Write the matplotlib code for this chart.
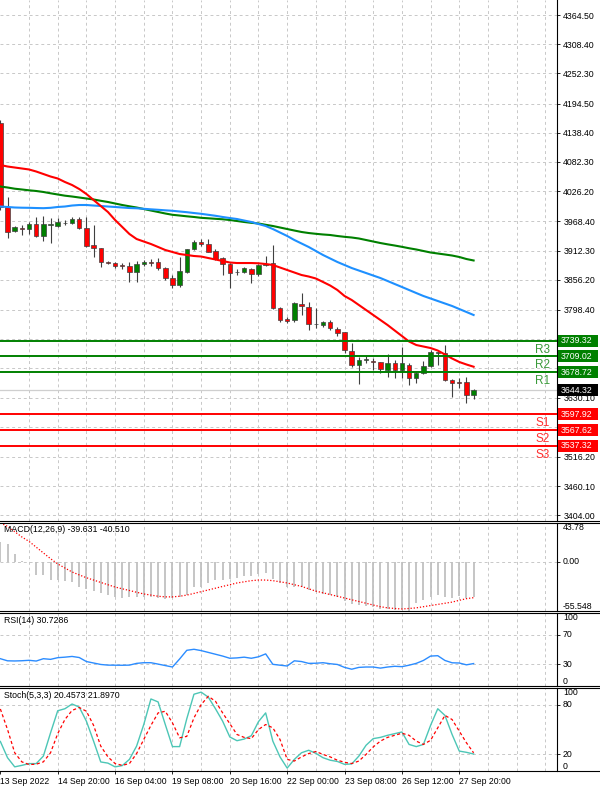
import matplotlib
matplotlib.use("Agg")
import matplotlib.pyplot as plt
import matplotlib.transforms as mtransforms
from matplotlib.patches import Rectangle
from matplotlib.lines import Line2D
import numpy as np

plt.rcParams['font.family'] = ['Liberation Sans', 'DejaVu Sans']

# ---------------- data (H4 candles) ----------------
opens = [4157, 3996, 3950, 3955, 3953, 3963, 3940, 3962, 3960, 3966,
         3966, 3972, 3956, 3923, 3917, 3890, 3889, 3884, 3883, 3872,
         3886, 3891, 3891, 3878, 3859, 3846, 3872, 3915, 3929, 3924,
         3911, 3897, 3886, 3871, 3872, 3877, 3867, 3884, 3889, 3801,
         3780, 3779, 3809, 3804, 3771, 3769, 3775, 3762, 3755, 3720,
         3692, 3703, 3700, 3698, 3683, 3696, 3682, 3692, 3667, 3677,
         3690, 3715, 3715, 3664, 3659, 3660, 3635]
highs = [4163, 4015, 3959, 3961, 3968, 3977, 3978, 3974, 3975, 3970,
         3977, 3976, 3976, 3961, 3917, 3893, 3891, 3889, 3890, 3892,
         3894, 3896, 3897, 3881, 3865, 3900, 3915, 3932, 3934, 3934,
         3915, 3900, 3888, 3877, 3880, 3878, 3886, 3902, 3923, 3803,
         3785, 3814, 3830, 3814, 3801, 3777, 3779, 3766, 3756, 3734,
         3707, 3710, 3705, 3699, 3714, 3702, 3727, 3696, 3680, 3700,
         3721, 3718, 3731, 3665, 3667, 3670, 3646]
lows = [3990, 3936, 3948, 3942, 3944, 3939, 3931, 3926, 3957, 3961,
        3963, 3953, 3920, 3900, 3881, 3886, 3878, 3877, 3851, 3851,
        3882, 3882, 3875, 3856, 3841, 3843, 3869, 3913, 3921, 3909,
        3894, 3865, 3840, 3866, 3869, 3850, 3863, 3882, 3800, 3776,
        3774, 3776, 3788, 3760, 3763, 3765, 3760, 3748, 3715, 3688,
        3656, 3697, 3683, 3677, 3669, 3667, 3667, 3654, 3657, 3676,
        3689, 3693, 3662, 3631, 3648, 3619, 3627]
closes = [3996, 3948, 3957, 3954, 3963, 3940, 3963, 3963, 3968, 3966,
          3972, 3956, 3921, 3917, 3890, 3889, 3882, 3883, 3872, 3886,
          3891, 3889, 3878, 3859, 3846, 3873, 3915, 3929, 3924, 3910,
          3896, 3886, 3870, 3872, 3878, 3867, 3884, 3887, 3801, 3778,
          3777, 3811, 3805, 3771, 3771, 3775, 3763, 3753, 3721, 3692,
          3703, 3704, 3699, 3684, 3696, 3683, 3696, 3667, 3677, 3691,
          3717, 3717, 3663, 3657, 3658, 3635, 3644.32]

ma_fast = [4076.5, 4073.6, 4071.7, 4069.8, 4067.9, 4064.0, 4059.2, 4054.4, 4050.6, 4043.9,
           4038.1, 4030.4, 4020.8, 4009.3, 3997.8, 3986.3, 3970.9, 3957.5, 3944.0, 3934.4,
           3929.6, 3924.8, 3919.1, 3913.3, 3909.5, 3905.6, 3903.7, 3901.8, 3900.8, 3897.9,
           3895.1, 3892.2, 3889.3, 3888.3, 3888.3, 3888.3, 3887.8, 3886.4, 3884.5, 3879.7,
           3874.9, 3870.1, 3865.3, 3862.4, 3858.6, 3851.9, 3845.1, 3836.5, 3825.0, 3817.3,
           3807.7, 3798.1, 3788.5, 3778.9, 3769.3, 3758.7, 3748.2, 3737.6, 3730.9, 3728.0,
           3725.1, 3720.3, 3712.7, 3705.0, 3698.3, 3693.5, 3689.2]
ma_mid = [3996.8, 3995.9, 3994.9, 3994.5, 3994.3, 3993.9, 3993.6, 3994.3, 3995.9, 3996.8,
          3998.7, 3999.7, 3999.7, 3998.7, 3997.8, 3996.8, 3995.9, 3994.9, 3993.9, 3993.4,
          3992.4, 3991.4, 3990.5, 3989.5, 3988.6, 3987.2, 3985.9, 3984.3, 3982.8, 3980.9,
          3979.0, 3976.7, 3974.7, 3972.8, 3969.9, 3967.1, 3963.2, 3959.4, 3953.6, 3946.9,
          3940.2, 3932.5, 3925.8, 3919.1, 3911.4, 3903.7, 3897.0, 3890.3, 3884.5, 3878.7,
          3873.9, 3869.1, 3864.3, 3859.5, 3853.8, 3848.0, 3842.3, 3836.5, 3830.7, 3825.0,
          3820.2, 3815.4, 3810.6, 3805.8, 3800.0, 3794.3, 3788.5]
ma_slow = [4035.2, 4033.3, 4031.0, 4029.5, 4027.9, 4026.6, 4024.7, 4022.2, 4019.9, 4017.6,
           4016.0, 4014.1, 4012.2, 4010.3, 4007.8, 4005.5, 4002.6, 3999.7, 3997.2, 3994.9,
           3992.0, 3989.1, 3986.3, 3983.4, 3980.9, 3979.5, 3978.0, 3976.7, 3975.1, 3974.2,
           3973.2, 3972.3, 3970.9, 3969.0, 3967.1, 3965.5, 3964.2, 3961.7, 3959.4, 3956.5,
           3953.6, 3950.7, 3947.9, 3945.9, 3944.4, 3943.1, 3942.1, 3940.2, 3938.6, 3937.3,
           3935.4, 3932.5, 3929.6, 3926.7, 3924.2, 3921.9, 3919.4, 3916.7, 3914.3, 3911.4,
           3908.5, 3906.6, 3904.7, 3902.7, 3899.9, 3896.0, 3893.2]

macd_main = [22, 19.6, 8.8, 0.5, -0.5, -15.2, -15.2, -20.4, -20.4, -21.7,
             -23, -28.2, -30.5, -32.7, -34.8, -37, -39.2, -40.5, -39.2, -39.2,
             -39.2, -39.2, -40.5, -42.2, -41.3, -39.2, -37, -28.2, -28.2, -24,
             -21, -20, -19.5, -18, -16, -16, -14, -12.5, -19, -24,
             -28, -28, -29, -32, -34, -36, -38, -40, -44, -48,
             -49, -50, -51, -53, -53, -54, -53, -55.5, -47, -43,
             -40, -37, -40, -41, -39, -41, -39.631]
macd_signal = [43.78, 40, 34, 28, 23, 16.5, 10, 3.5, -2.4, -7,
               -11.5, -14.8, -18, -20.6, -23.3, -25.9, -28.5, -30.5, -32.4, -34.4,
               -36.3, -37.6, -38.9, -39.6, -39.6, -38.9, -37.6, -35.7, -33.7, -31.8,
               -29.8, -27.8, -25.9, -23.9, -22.6, -21.3, -20.6, -20.6, -21.3, -22.6,
               -23.9, -25.9, -27.8, -30.5, -33.1, -35, -37, -38.9, -40.9, -42.9,
               -44.8, -46.8, -48.8, -50.7, -52, -52.7, -53.3, -52.7, -52, -50.7,
               -49.4, -48.1, -46.8, -45.5, -43.5, -41.6, -40.51]
rsi = [37.4, 34.5, 34.3, 34.6, 35.2, 34.2, 37.4, 36.5, 38.8, 39.5,
       40.5, 39, 33.5, 31.5, 29.5, 28.6, 28.5, 28.4, 28.6, 31,
       31.9, 31.9, 30, 28, 26, 37, 48.9, 50.3, 48.5, 46,
       43.5, 41, 38, 38.5, 39.5, 38, 40, 44, 29.7, 28.5,
       27.4, 34.5, 33.5, 31, 31.2, 31.9, 30.5, 29.5, 25.5, 23,
       25.5, 26, 26, 24.5, 26, 27, 26.5, 28.5, 31, 35,
       41, 41.5, 35, 31.8, 31.5, 29, 30.73]
stoch_main = [35.6, 16, 5, 6.8, 8.9, 8.9, 18, 46, 72.6, 75,
              80.7, 77, 60, 36, 10.9, 9.5, 5, 6.5, 14, 30,
              56, 86.8, 83.2, 56, 29.4, 29.4, 63, 92.5, 95, 89,
              75, 60, 41, 36.5, 38.5, 42.5, 59.5, 70, 36, 17,
              3.5, 14, 22, 25, 21.3, 16, 13, 11.5, 8, 8.5,
              18, 31, 39, 40.5, 43, 45, 47, 32, 29.4, 32,
              55, 75, 67, 44, 24, 22.5, 20.46]
stoch_signal = [74.7, 50, 22, 11, 7.8, 8.2, 11, 22, 45, 62,
                73, 76.5, 72, 55, 30, 17, 9, 6.8, 9, 21,
                38, 55, 70, 72, 58, 40, 41.7, 64, 80, 90,
                84, 70, 57, 44, 40.5, 39, 50, 56, 52, 38,
                14, 12, 17, 21, 23.5, 20, 17, 13, 10.5, 9,
                12, 20, 29, 36, 40.5, 43, 45.5, 43, 36, 32,
                37, 52, 67, 62, 48, 34, 21.9]

price_ticks = [4364.50, 4308.40, 4252.30, 4194.50, 4138.40, 4082.30, 4026.20, 3968.40,
               3912.30, 3856.20, 3798.40, 3742.30, 3686.20, 3630.10, 3574.00, 3516.20,
               3460.10, 3404.00]
# labels hidden under the level boxes in the reference are left blank
price_tick_labels = ["4364.50", "4308.40", "4252.30", "4194.50", "4138.40", "4082.30",
                     "4026.20", "3968.40", "3912.30", "3856.20", "3798.40", "", "",
                     "3630.10", "", "3516.20", "3460.10", "3404.00"]
date_tick_bars = [0, 8, 16, 24, 32, 40, 48, 56, 64]
date_tick_labels = ["13 Sep 2022", "14 Sep 20:00", "16 Sep 04:00", "19 Sep 08:00",
                    "20 Sep 16:00", "22 Sep 00:00", "23 Sep 08:00", "26 Sep 12:00",
                    "27 Sep 20:00"]
resistance = [3739.32, 3709.02, 3678.72]
resistance_names = ["R3", "R2", "R1"]
support = [3597.92, 3567.62, 3537.32]
support_names = ["S1", "S2", "S3"]
last_price = 3644.32

# ---------------- layout ----------------
W, H = 600, 791
RIGHT = 557
GRID = '#c8c8c8'
FS = 6.3
XLIM = (-0.05, 77.63)

fig = plt.figure(figsize=(W / 100, H / 100), dpi=100)
fig.patch.set_facecolor('white')


def add_panel(top, bottom):
    ax = fig.add_axes([0, (H - bottom) / H, RIGHT / W, (bottom - top) / H])
    for s in ['left', 'top', 'bottom']:
        ax.spines[s].set_visible(False)
    ax.spines['right'].set_color('black')
    ax.spines['right'].set_linewidth(0.8)
    ax.set_xlim(*XLIM)
    ax.yaxis.tick_right()
    ax.tick_params(axis='y', length=2.5, width=0.6, pad=2, labelsize=FS, colors='black')
    ax.tick_params(axis='x', bottom=False, labelbottom=False)
    for b in range(4, 78, 4):
        ax.axvline(b, color=GRID, lw=0.7, ls=(0, (3, 3)), zorder=0)
    return ax


def right_text(ax, y, text, va='center'):
    trans = mtransforms.blended_transform_factory(ax.transAxes, ax.transData)
    ax.text(563 / RIGHT, y, text, transform=trans, ha='left', va=va,
            fontsize=FS, clip_on=False)


x = np.arange(len(closes))
o = np.array(opens, dtype=float)
c = np.array(closes, dtype=float)
hi = np.array(highs, dtype=float)
lo = np.array(lows, dtype=float)

# ---- main price panel ----
ax = add_panel(0, 521)
ymin, ymax = 3393.0, 4393.3
ax.set_ylim(ymin, ymax)
ax.set_yticks(price_ticks)
ax.set_yticklabels(price_tick_labels)
for p in price_ticks:
    ax.axhline(p, color=GRID, lw=0.7, ls=(0, (3, 3)), zorder=0)

ax.axhline(last_price, color='#cfcfcf', lw=0.9, zorder=1)

ax.vlines(x, lo, hi, color='#404040', lw=0.8, zorder=3)
body_colors = np.where(c >= o, '#008000', '#ff0000')
ax.bar(x, c - o, bottom=o, width=0.62, color=body_colors, edgecolor='#404040',
       linewidth=0.5, zorder=4)

ax.plot(x, ma_slow, color='#008000', lw=1.5, zorder=5)
ax.plot(x, ma_mid, color='#1e90ff', lw=1.5, zorder=5)
ax.plot(x, ma_fast, color='#ff0000', lw=1.5, zorder=5)

px_per_unit = 521 / (ymax - ymin)
box_h = 12 / px_per_unit
trans = mtransforms.blended_transform_factory(ax.transAxes, ax.transData)


def price_box(level, fc):
    ax.add_patch(Rectangle((558 / RIGHT, level - box_h / 2), 40 / RIGHT, box_h,
                           transform=trans, facecolor=fc, edgecolor='none',
                           clip_on=False, zorder=10))
    ax.text(561 / RIGHT, level, "%.2f" % level, transform=trans, color='white',
            fontsize=FS, ha='left', va='center', clip_on=False, zorder=11)


for lvl, name in zip(resistance, resistance_names):
    ax.axhline(lvl, color='#008000', lw=1.4, zorder=6)
    price_box(lvl, '#008000')
    ax.text(543 / RIGHT, lvl - 3 / px_per_unit, name, transform=trans, color='#3a9a3a',
            fontsize=8.5, ha='center', va='top', zorder=7)
for lvl, name in zip(support, support_names):
    ax.axhline(lvl, color='#ff0000', lw=1.4, zorder=6)
    price_box(lvl, '#ff0000')
    ax.text(543 / RIGHT, lvl - 3 / px_per_unit, name, transform=trans, color='#ff3030',
            fontsize=8.5, ha='center', va='top', zorder=7)
price_box(last_price, '#000000')

# ---- MACD panel ----
axm = add_panel(523, 611)
axm.set_ylim(-55.548, 43.78)
axm.axhline(0, color=GRID, lw=0.7, ls=(0, (3, 3)), zorder=0)
axm.vlines(x, 0, macd_main, color='#c0c0c0', lw=1.3, zorder=2)
axm.plot(x, macd_signal, color='#ff0000', lw=0.9, ls=(0, (1, 1.5)), zorder=3)
axm.set_yticks([0])
axm.set_yticklabels([])
right_text(axm, 43.78, "43.78", va='top')
right_text(axm, 0, "0.00")
right_text(axm, -55.548, "-55.548", va='bottom')
axm.text(4 / RIGHT, 1 - 2 / 88, "MACD(12,26,9) -39.631 -40.510", transform=axm.transAxes,
         ha='left', va='top', fontsize=FS, zorder=6)

# ---- RSI panel ----
axr = add_panel(613, 686)
axr.set_ylim(0, 100)
for lv in (70, 30):
    axr.axhline(lv, color=GRID, lw=0.7, ls=(0, (3, 3)), zorder=0)
axr.plot(x, rsi, color='#2b8cff', lw=1.0, zorder=3)
axr.set_yticks([70, 30])
axr.set_yticklabels([])
right_text(axr, 100, "100", va='top')
right_text(axr, 70, "70")
right_text(axr, 30, "30")
right_text(axr, 0, "0", va='bottom')
axr.text(4 / RIGHT, 1 - 3 / 73, "RSI(14) 30.7286", transform=axr.transAxes,
         ha='left', va='top', fontsize=FS)

# ---- Stochastic panel ----
axs = add_panel(688, 771)
axs.set_ylim(0, 100)
for lv in (80, 20):
    axs.axhline(lv, color=GRID, lw=0.7, ls=(0, (3, 3)), zorder=0)
axs.plot(x, stoch_main, color='#4cc6b6', lw=1.0, zorder=3)
axs.plot(x, stoch_signal, color='#ff0000', lw=0.9, ls=(0, (2.5, 2)), zorder=3)
axs.set_yticks([80, 20])
axs.set_yticklabels([])
right_text(axs, 100, "100", va='top')
right_text(axs, 80, "80")
right_text(axs, 20, "20")
right_text(axs, 0, "0", va='bottom')
axs.text(4 / RIGHT, 1 - 3 / 83, "Stoch(5,3,3) 20.4573 21.8970", transform=axs.transAxes,
         ha='left', va='top', fontsize=FS)
axs.set_xticks(date_tick_bars)
axs.set_xticklabels(date_tick_labels, ha='left', fontsize=6.2)
axs.tick_params(axis='x', bottom=True, labelbottom=True, length=2, width=0.6, pad=2.5)

# ---- panel borders across full width ----
for yb in [521, 523, 611, 613, 686, 688, 771]:
    fig.add_artist(Line2D([0, 1], [1 - yb / H] * 2, transform=fig.transFigure,
                          color='black', lw=0.8))

fig.savefig('out.png', dpi=100, facecolor='white')
